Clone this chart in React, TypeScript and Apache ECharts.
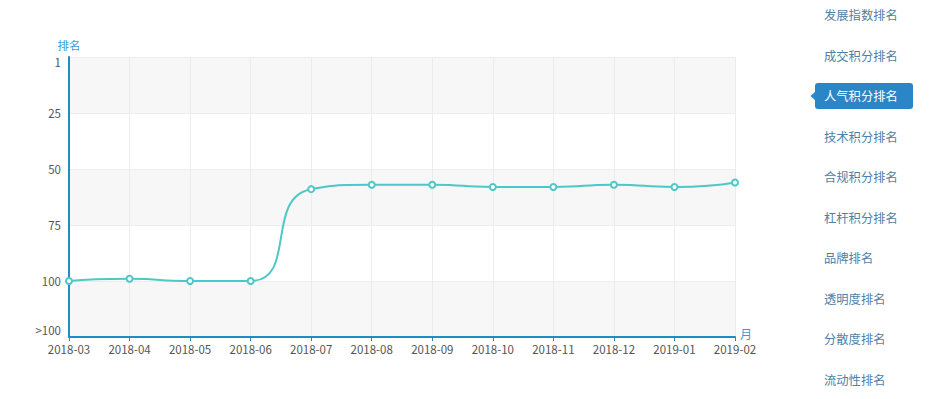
import React, { useEffect, useRef } from "react";
import * as echarts from "echarts";

const months = ["2018-03","2018-04","2018-05","2018-06","2018-07","2018-08","2018-09","2018-10","2018-11","2018-12","2019-01","2019-02"];
const ranks = [100, 99, 100, 100, 59, 57, 57, 58, 58, 57, 58, 56];
const yTicks = [0, 25, 50, 75, 100, 125];
const yTickLabels = ["1", "25", "50", "75", "100", ">100"];
const menuItems = ["发展指数排名","成交积分排名","人气积分排名","技术积分排名","合规积分排名","杠杆积分排名","品牌排名","透明度排名","分散度排名","流动性排名"];
const selectedIndex = 2;

const FONT = '"Noto Sans CJK SC", "Microsoft YaHei", sans-serif';

export default function App() {
  const ref = useRef<HTMLDivElement>(null);
  useEffect(() => {
    document.body.style.margin = "0";
    const chart = echarts.init(ref.current!, undefined, { renderer: "svg" });
    const menuTop = 15;
    const menuStep = 40.5;
    const graphics: any[] = [];
    menuItems.forEach((name, i) => {
      const cy = menuTop + i * menuStep;
      if (i === selectedIndex) {
        graphics.push({
          type: "rect",
          shape: { x: 815, y: cy - 13, width: 98, height: 26, r: 3 },
          style: { fill: "#2a86c6" },
        });
        graphics.push({
          type: "polygon",
          shape: { points: [[815, cy - 4], [810.5, cy], [815, cy + 4]] },
          style: { fill: "#2a86c6" },
        });
      }
      graphics.push({
        type: "text",
        x: 824,
        y: cy,
        style: {
          text: name,
          fill: i === selectedIndex ? "#ffffff" : "#4f7fa6",
          font: `12.3px ${FONT}`,
          verticalAlign: "middle",
          align: "left",
        },
      });
    });

    chart.setOption({
      animation: false,
      textStyle: { fontFamily: FONT },
      grid: { left: 69, right: 198, top: 57, bottom: 62, containLabel: false },
      graphic: graphics,
      xAxis: {
        type: "category",
        data: months,
        boundaryGap: false,
        position: "bottom",
        name: "月",
        nameLocation: "end",
        nameGap: 5,
        nameTextStyle: { color: "#3a9ad9", fontSize: 12, verticalAlign: "bottom", padding: [0, 0, -2, 0] },
        axisLine: { onZero: false, lineStyle: { color: "#1f8cc4", width: 2 } },
        axisTick: { show: true, length: 4, lineStyle: { color: "#1f8cc4" } },
        axisLabel: { color: "#555", fontSize: 11.5, margin: 6 },
        splitLine: { show: true, lineStyle: { color: "#ececec" } },
      },
      yAxis: {
        type: "value",
        inverse: true,
        min: 0,
        max: 125,
        interval: 25,
        name: "排名",
        nameLocation: "start",
        nameGap: 6,
        nameTextStyle: { color: "#3a9ad9", fontSize: 11.5, align: "center" },
        axisLine: { show: true, lineStyle: { color: "#1f8cc4", width: 2 } },
        axisTick: { show: false },
        axisLabel: {
          color: "#555",
          fontSize: 11.5,
          margin: 8,
          formatter: (v: number) => {
            const idx = yTicks.indexOf(v);
            const label = idx >= 0 ? yTickLabels[idx] : String(v);
            if (v === yTicks[0]) return `{top|${label}}`;
            if (v === yTicks[yTicks.length - 1]) return `{bot|${label}}`;
            return label;
          },
          rich: {
            top: { padding: [10, 0, 0, 0], color: "#555", fontSize: 11.5 },
            bot: { padding: [0, 0, 14, 0], color: "#555", fontSize: 11.5 },
          },
        },
        splitLine: { show: true, lineStyle: { color: "#ececec" } },
        splitArea: { show: true, areaStyle: { color: ["#f7f7f7", "#ffffff"] } },
      },
      series: [
        {
          type: "line",
          data: ranks,
          smooth: 0.6,
          symbol: "emptyCircle",
          symbolSize: 6,
          lineStyle: { color: "#4cc8c8", width: 2 },
          itemStyle: { color: "#4cc8c8", borderWidth: 2 },
        },
      ],
    });
    return () => chart.dispose();
  }, []);
  return <div ref={ref} style={{ width: 933, height: 399 }} />;
}
